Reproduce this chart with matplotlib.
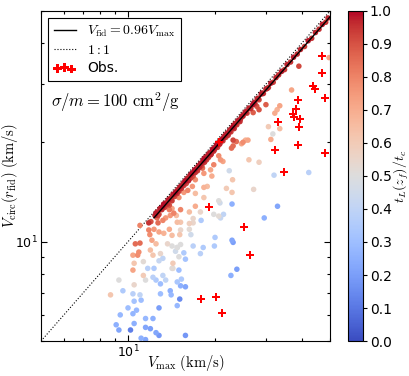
import numpy as np
import matplotlib
matplotlib.use("Agg")
import matplotlib.pyplot as plt
from matplotlib.ticker import LogLocator, NullFormatter, LogFormatterMathtext

plt.rcParams['mathtext.fontset'] = 'cm'
plt.rcParams['font.family'] = ['DejaVu Sans']

# ---- simulated haloes: band close to V_fid = 0.96 V_max ----
band_vmax = [12.4, 12.6, 12.8, 12.9, 13.1, 13.2, 13.4, 13.5, 13.7, 13.8, 13.9, 14.1, 14.2, 14.4, 14.5, 14.6, 14.8, 14.9, 15.0,
             15.2, 15.3, 15.5, 15.6, 15.8, 15.9, 16.1, 16.2, 16.4, 16.5, 16.7, 16.8, 17.0, 17.1, 17.3, 17.4, 17.6, 17.7, 17.9, 18.0,
             18.2, 18.4, 18.5, 18.7, 18.9, 19.0, 19.2, 19.4, 19.6, 19.8, 20.0,
             20.2, 20.4, 20.6, 20.8, 21.1, 21.3, 21.5, 21.8, 22.0, 22.2, 22.5, 22.7, 23.0, 23.3, 23.5, 23.8, 24.1, 24.4, 24.7,
             25.0, 25.4, 25.8, 26.2, 26.6, 27.0, 27.5, 28.0, 28.4, 28.9, 29.4, 30.0, 30.6, 31.2, 31.8, 32.5, 33.2, 34.0, 34.8,
             35.5, 36.5, 37.4, 38.5, 39.5, 40.8, 42.0, 43.2, 44.5, 45.8, 47.0, 48.3, 49.2,
             12.5, 12.7, 13.0, 13.3, 13.6, 14.0, 14.3, 14.7, 15.1, 15.4, 15.7, 16.0, 16.3, 16.6, 16.9, 17.2, 17.5, 17.8, 18.1,
             18.3, 18.6, 18.8, 19.1, 19.3, 19.7, 19.9, 20.3, 20.7, 21.0, 21.4, 21.7, 22.1, 22.4, 22.8, 23.2, 23.6, 24.0, 24.5,
             24.9, 25.6, 26.4, 27.3, 28.2, 29.1, 30.3, 11.8, 12.0]
band_vcirc = [12.0, 12.3, 12.1, 12.6, 12.5, 12.8, 12.7, 13.1, 13.0, 13.4, 12.9, 13.6, 13.3, 13.9, 13.7, 14.1, 14.0, 14.4, 14.2,
              14.7, 14.5, 15.0, 14.8, 15.3, 15.0, 15.6, 15.3, 15.9, 15.6, 16.1, 15.8, 16.5, 16.2, 16.7, 16.4, 17.0, 16.8, 17.3, 17.0,
              17.6, 17.4, 18.0, 17.7, 18.3, 18.0, 18.6, 18.4, 19.0, 18.8, 19.3,
              19.5, 19.3, 20.0, 19.8, 20.4, 20.2, 20.8, 20.7, 21.3, 21.0, 21.8, 21.5, 22.2, 22.0, 22.8, 22.6, 23.3, 23.1, 23.9,
              24.0, 24.6, 24.5, 25.4, 25.3, 26.0, 26.2, 27.1, 26.9, 28.0, 28.1, 29.0, 29.3, 30.2, 30.4, 31.4, 32.0, 32.8, 33.2,
              34.4, 35.0, 36.2, 37.0, 38.2, 39.0, 40.6, 41.3, 43.0, 44.0, 45.5, 46.2, 47.6,
              12.2, 12.0, 12.6, 13.0, 12.9, 13.5, 13.9, 14.2, 14.6, 14.8, 15.2, 15.5, 15.5, 16.1, 16.3, 16.5, 16.9, 17.2, 17.3,
              17.8, 17.9, 18.1, 18.5, 18.3, 19.1, 19.0, 19.7, 19.7, 20.2, 20.6, 21.0, 21.2, 21.5, 22.0, 22.5, 22.6, 23.2, 23.5,
              24.1, 24.8, 25.3, 26.4, 27.2, 28.2, 29.1, 11.4, 11.5]
band_t = [0.97, 0.95, 0.92, 0.98, 0.96, 0.99, 0.93, 0.97, 0.95, 0.98, 0.90, 0.96, 0.94, 0.97, 0.92, 0.99, 0.95, 0.97, 0.93,
          0.98, 0.95, 0.97, 0.94, 0.99, 0.92, 0.96, 0.97, 0.98, 0.93, 0.96, 0.90, 0.99, 0.95, 0.97, 0.94, 0.98, 0.96, 0.97, 0.92,
          0.99, 0.95, 0.97, 0.94, 0.98, 0.93, 0.96, 0.97, 0.99, 0.95, 0.97,
          0.98, 0.93, 0.96, 0.97, 0.99, 0.94, 0.97, 0.92, 0.98, 0.95, 0.97, 0.93, 0.99, 0.96, 0.97, 0.94, 0.98, 0.95, 0.97,
          0.96, 0.98, 0.93, 0.97, 0.95, 0.99, 0.94, 0.97, 0.92, 0.98, 0.96, 0.97, 0.95, 0.98, 0.93, 0.97, 0.96, 0.98, 0.94,
          0.97, 0.95, 0.98, 0.96, 0.97, 0.93, 0.98, 0.95, 0.97, 0.96, 0.98, 0.95, 0.97,
          0.98, 0.93, 0.97, 0.99, 0.91, 0.96, 0.98, 0.97, 0.96, 0.93, 0.98, 0.97, 0.92, 0.99, 0.96, 0.94, 0.97, 0.98, 0.93,
          0.99, 0.96, 0.97, 0.98, 0.92, 0.97, 0.96, 0.99, 0.94, 0.97, 0.96, 0.98, 0.95, 0.97, 0.96, 0.98, 0.93, 0.97, 0.95,
          0.98, 0.97, 0.94, 0.98, 0.96, 0.97, 0.96, 0.95, 0.90]

# ---- simulated haloes scattered below the band ----
off_vmax = [13.2, 13.5, 14.0, 14.4, 12.7, 12.3, 12.8, 13.3, 13.9, 11.8, 11.9, 12.1, 12.5, 10.6, 11.0, 13.7, 14.2, 14.8,
            10.9, 10.4, 10.8, 11.95, 12.2, 12.95, 13.2, 11.3, 10.5, 10.4, 11.7, 12.3, 12.8, 14.2, 9.3, 10.5, 11.3, 11.5,
            12.2, 12.5, 13.2, 13.5, 8.7, 9.6, 10.4, 11.0, 12.95, 14.0, 12.95, 10.5, 11.1, 10.0, 10.7, 10.4, 12.8, 9.4,
            9.1, 9.3, 10.5, 11.5, 12.2, 10.2, 11.5, 11.95, 12.5, 12.8, 11.1, 11.5, 15.0,
            20.8, 22.9, 19.8, 20.6, 20.9, 21.4, 17.9, 16.8, 16.3, 15.2, 14.8, 16.3, 15.2, 16.5, 15.1, 14.2, 20.0, 18.2,
            16.8, 17.8, 19.9, 22.9, 23.1, 15.2, 14.8, 14.6, 15.6, 15.8, 14.3, 14.3, 15.0, 23.8, 22.7, 14.8, 15.3, 15.2,
            15.8, 14.1, 15.1, 14.8, 15.8,
            26.0, 25.0, 22.8, 20.9, 20.6, 21.3, 19.8, 19.3, 19.5, 22.4, 26.2, 28.4, 23.0, 21.9, 22.9, 27.2, 18.1, 18.3,
            17.1, 16.7, 16.1, 15.6, 15.0, 18.8, 18.3, 17.1, 18.3, 20.6,
            14.2, 15.2, 16.3, 17.1, 17.8, 13.9, 13.3, 14.7, 16.8,
            49.6, 39.0, 36.8, 33.5, 32.8, 32.2, 30.6, 33.5, 30.0, 31.7, 31.2, 32.0, 42.2, 32.9, 29.6, 25.5, 24.7, 23.7,
            23.1, 23.1, 28.4, 27.9, 27.1, 11.0, 12.6]
off_vcirc = [11.6, 11.8, 12.0, 12.2, 11.4, 10.9, 10.7, 10.6, 10.9, 10.85, 10.5, 10.1, 9.85, 9.85, 9.9, 9.85, 9.7, 9.6,
             9.3, 9.1, 9.1, 9.43, 9.1, 9.2, 8.9, 8.7, 8.6, 8.2, 8.3, 8.3, 8.75, 8.3, 7.65, 7.4, 7.9, 7.65,
             7.8, 7.65, 7.9, 7.65, 6.9, 7.1, 6.95, 6.9, 7.45, 7.1, 6.95, 6.6, 6.65, 6.3, 6.2, 6.05, 6.3, 6.0,
             5.6, 5.4, 5.65, 5.85, 5.85, 5.4, 5.5, 5.45, 5.3, 5.2, 5.1, 5.05, 9.0,
             13.1, 13.0, 12.1, 11.95, 11.8, 12.1, 11.6, 11.4, 11.35, 11.45, 11.45, 10.9, 10.85, 10.5, 10.5, 10.45, 10.3, 9.6,
             9.7, 9.2, 9.7, 10.1, 9.95, 9.8, 9.6, 9.35, 9.25, 8.85, 8.6, 8.3, 8.2, 8.25, 7.9, 7.55, 7.7, 7.35,
             7.3, 6.9, 6.7, 6.4, 5.2,
             20.3, 20.0, 19.2, 17.7, 18.2, 17.5, 17.1, 16.5, 15.8, 16.4, 17.7, 17.4, 15.4, 14.5, 14.1, 14.4, 16.7, 16.1,
             15.4, 14.7, 14.3, 14.1, 13.6, 14.7, 14.6, 14.0, 13.6, 13.3,
             12.6, 12.5, 12.3, 12.8, 12.3, 12.5, 12.9, 12.0, 11.75,
             36.1, 34.0, 28.8, 25.8, 25.1, 24.5, 22.3, 22.0, 26.0, 21.2, 20.4, 15.9, 16.2, 12.8, 11.8, 20.3, 19.8, 20.1,
             19.5, 20.3, 25.1, 25.7, 24.6, 11.2, 11.8]
off_t = [0.80, 0.75, 0.75, 0.80, 0.85, 0.75, 0.72, 0.68, 0.70, 0.80, 0.78, 0.72, 0.65, 0.85, 0.85, 0.55, 0.50, 0.50,
         0.78, 0.72, 0.78, 0.65, 0.62, 0.55, 0.40, 0.52, 0.62, 0.72, 0.38, 0.35, 0.42, 0.50, 0.50, 0.55, 0.60, 0.50,
         0.38, 0.35, 0.40, 0.40, 0.62, 0.35, 0.38, 0.40, 0.30, 0.25, 0.30, 0.32, 0.30, 0.30, 0.28, 0.27, 0.20, 0.28,
         0.25, 0.22, 0.25, 0.28, 0.25, 0.12, 0.22, 0.20, 0.22, 0.18, 0.25, 0.22, 0.50,
         0.45, 0.25, 0.50, 0.52, 0.42, 0.40, 0.35, 0.55, 0.58, 0.62, 0.65, 0.52, 0.55, 0.45, 0.62, 0.65, 0.35, 0.35,
         0.38, 0.38, 0.35, 0.22, 0.20, 0.50, 0.48, 0.45, 0.35, 0.32, 0.60, 0.52, 0.30, 0.20, 0.25, 0.33, 0.35, 0.25,
         0.22, 0.28, 0.15, 0.28, 0.18,
         0.72, 0.78, 0.85, 0.75, 0.78, 0.72, 0.80, 0.72, 0.70, 0.45, 0.62, 0.58, 0.62, 0.60, 0.62, 0.55, 0.85, 0.75,
         0.78, 0.75, 0.80, 0.75, 0.78, 0.65, 0.68, 0.65, 0.62, 0.50,
         0.72, 0.80, 0.65, 0.70, 0.55, 0.82, 0.90, 0.65, 0.55,
         0.72, 0.92, 0.72, 0.72, 0.68, 0.70, 0.60, 0.65, 0.88, 0.50, 0.70, 0.40, 0.38, 0.22, 0.25, 0.68, 0.72, 0.85,
         0.85, 0.92, 0.90, 0.90, 0.88, 0.80, 0.85]

# ---- observations ----
obs_vmax = [47.0, 46.8, 43.5, 44.5, 48.0, 38.6, 38.2, 37.3, 37.6, 39.3, 38.9, 33.1, 38.8, 32.2, 48.0, 34.7,
            20.6, 19.0, 25.1, 26.4, 17.9, 20.2, 21.2]
obs_vcirc = [36.6, 32.4, 29.6, 29.1, 27.3, 26.9, 25.3, 24.3, 23.9, 23.5, 22.3, 23.1, 19.6, 18.9, 18.5, 16.3,
             20.0, 12.7, 11.1, 9.1, 6.7, 6.8, 6.1]

vmax_all = band_vmax + off_vmax
vcirc_all = band_vcirc + off_vcirc
t_all = band_t + off_t

xlim = (5, 50)
ylim = (5, 50)

fig = plt.figure(figsize=(4.10, 3.76), dpi=100)
ax = fig.add_axes([0.100, 0.093, 0.705, 0.878])
cax = fig.add_axes([0.849, 0.093, 0.036, 0.878])

ax.set_xscale('log')
ax.set_yscale('log')

line_x = np.array([12.3, 50.0])
ax.plot(line_x, 0.96 * line_x, color='k', lw=1.0, zorder=4,
        label=r'$V_{\rm fid}=0.96V_{\rm max}$')
one_x = np.array([5.0, 50.0])
ax.plot(one_x, one_x, color='k', lw=0.8, ls=':', zorder=1, label=r'$1:1$')

order = np.argsort(t_all)
sc = ax.scatter(np.array(vmax_all)[order], np.array(vcirc_all)[order], c=np.array(t_all)[order],
                cmap='coolwarm', vmin=0.0, vmax=1.0, s=16, linewidths=0, zorder=2)
ax.scatter(obs_vmax, obs_vcirc, marker='P', s=40, color='red', linewidths=0, zorder=5, label='Obs.')

ax.set_xlim(*xlim)
ax.set_ylim(*ylim)

for axis in (ax.xaxis, ax.yaxis):
    axis.set_major_locator(LogLocator(base=10))
    axis.set_major_formatter(LogFormatterMathtext())
    axis.set_minor_locator(LogLocator(base=10, subs=np.arange(2, 10)))
    axis.set_minor_formatter(NullFormatter())
ax.tick_params(which='both', direction='in', top=True, right=True, labelsize=9, pad=2)
ax.tick_params(which='major', length=4, width=0.8)
ax.tick_params(which='minor', length=2.5, width=0.8)

ax.set_xlabel(r'$V_{\rm max}\ ({\rm km/s})$', fontsize=10.5)
ax.xaxis.set_label_coords(0.5, -0.036)
ax.set_ylabel(r'$V_{\rm circ}(r_{\rm fid})\ ({\rm km/s})$', fontsize=10.5, labelpad=-3)

ax.text(0.035, 0.725, r'$\sigma/m=100\ {\rm cm}^2/{\rm g}$', transform=ax.transAxes,
        fontsize=12, va='center', ha='left')

leg = ax.legend(loc='upper left', fontsize=10, scatterpoints=3, handlelength=1.6,
                frameon=True, fancybox=False, framealpha=1, edgecolor='k',
                borderaxespad=0.5, handletextpad=0.8, labelspacing=0.3, borderpad=0.4)
leg.get_frame().set_linewidth(0.8)

cb = fig.colorbar(sc, cax=cax)
cb.set_ticks(np.round(np.arange(0, 1.01, 0.1), 1))
cb.ax.tick_params(labelsize=10, length=3, width=0.8, pad=2)
cb.set_label(r'$t_L(z_f)/t_c$', fontsize=10, labelpad=0)
cb.outline.set_linewidth(0.8)

fig.savefig('out.png', dpi=100)
